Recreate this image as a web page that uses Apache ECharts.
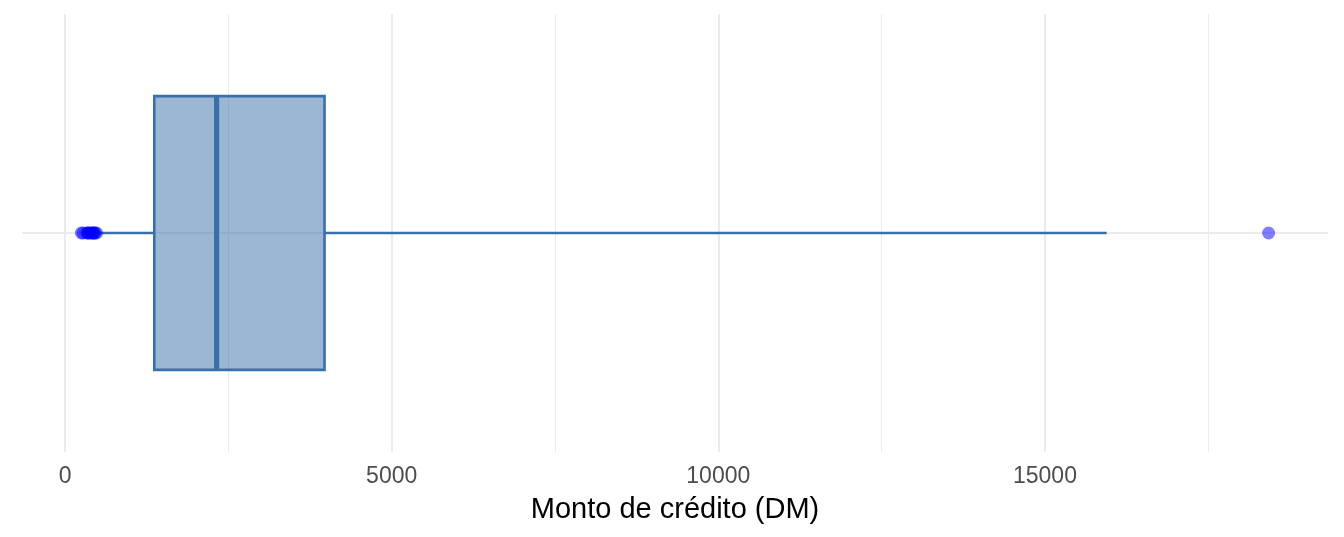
<!DOCTYPE html>
<html>
<head>
<meta charset="utf-8">
<script src="https://cdn.jsdelivr.net/npm/echarts@6/dist/echarts.min.js"></script>
<style>
  html, body { margin: 0; padding: 0; background: #fff; }
  #chart { width: 1344px; height: 537px; }
</style>
</head>
<body>
<div id="chart"></div>
<script>
// ---- data ----
const axisTitle = 'Monto de crédito (DM)';
const tickValues = [0, 5000, 10000, 15000];
const minorTickValues = [2500, 7500, 12500, 17500];
// [lower whisker, Q1, median, Q3, upper whisker]
const boxStats = [522, 1366, 2320, 3972, 15945];
const lowOutliers = [250, 276, 338, 343, 362, 385, 409, 426, 433, 448, 458, 484];
const highOutliers = [18424];
const groupPosition = 1;

// ---- styles ----
const boxColor = '#3a6faa';
const boxFill = 'rgba(58,111,170,0.5)';
const gridColor = '#ebebeb';

const chart = echarts.init(document.getElementById('chart'), null, { renderer: 'canvas' });

const gridLines = []
  .concat(tickValues.map(v => ({ xAxis: v, lineStyle: { width: 2, color: gridColor, type: 'solid' } })))
  .concat(minorTickValues.map(v => ({ xAxis: v, lineStyle: { width: 1, color: gridColor, type: 'solid' } })))
  .concat([{ yAxis: groupPosition, lineStyle: { width: 2, color: gridColor, type: 'solid' } }]);

const option = {
  animation: false,
  backgroundColor: '#ffffff',
  grid: { left: 22, right: 16, top: 14, bottom: 85, containLabel: false },
  xAxis: {
    type: 'value',
    min: -659,
    max: 19333,
    name: axisTitle,
    nameLocation: 'middle',
    nameGap: 43,
    nameTextStyle: { color: '#000000', fontSize: 29, fontFamily: 'Liberation Sans, Arial, sans-serif' },
    axisLine: { show: false },
    axisTick: { show: false },
    splitLine: { show: false },
    axisLabel: {
      customValues: tickValues,
      color: '#4d4d4d',
      fontSize: 23,
      fontFamily: 'Liberation Sans, Arial, sans-serif',
      margin: 13,
      formatter: v => (tickValues.indexOf(v) >= 0 ? String(v) : '')
    }
  },
  yAxis: {
    type: 'value',
    min: 0.4,
    max: 1.6,
    show: false,
    splitLine: { show: false }
  },
  series: [
    {
      type: 'line',
      data: [],
      z: 1,
      silent: true,
      markLine: {
        z: 1,
        silent: true,
        symbol: 'none',
        label: { show: false },
        emphasis: { disabled: true },
        animation: false,
        data: gridLines
      }
    },
    {
      type: 'custom',
      z: 3,
      data: [[groupPosition].concat(boxStats)],
      encode: { x: [1, 2, 3, 4, 5], y: 0 },
      renderItem: function (params, api) {
        const y = api.value(0);
        const lw = api.coord([api.value(1), y]);
        const q1 = api.coord([api.value(2), y]);
        const md = api.coord([api.value(3), y]);
        const q3 = api.coord([api.value(4), y]);
        const uw = api.coord([api.value(5), y]);
        const half = api.size([0, 0.375])[1];
        const cy = q1[1];
        return {
          type: 'group',
          children: [
            { type: 'line', shape: { x1: lw[0], y1: cy, x2: q1[0], y2: cy }, style: { stroke: boxColor, lineWidth: 2.6 } },
            { type: 'line', shape: { x1: q3[0], y1: cy, x2: uw[0], y2: cy }, style: { stroke: boxColor, lineWidth: 2.6 } },
            { type: 'rect', shape: { x: q1[0], y: cy - half, width: q3[0] - q1[0], height: 2 * half },
              style: { fill: boxFill, stroke: boxColor, lineWidth: 2.6 } },
            { type: 'line', shape: { x1: md[0], y1: cy - half, x2: md[0], y2: cy + half }, style: { stroke: boxColor, lineWidth: 5.2 } }
          ]
        };
      }
    },
    {
      type: 'scatter',
      z: 4,
      symbol: 'circle',
      symbolSize: 13,
      itemStyle: { color: 'rgba(0,0,255,0.5)', opacity: 1 },
      emphasis: { disabled: true },
      data: lowOutliers.concat(highOutliers).map(v => [v, groupPosition])
    }
  ]
};

chart.setOption(option);
</script>
</body>
</html>
